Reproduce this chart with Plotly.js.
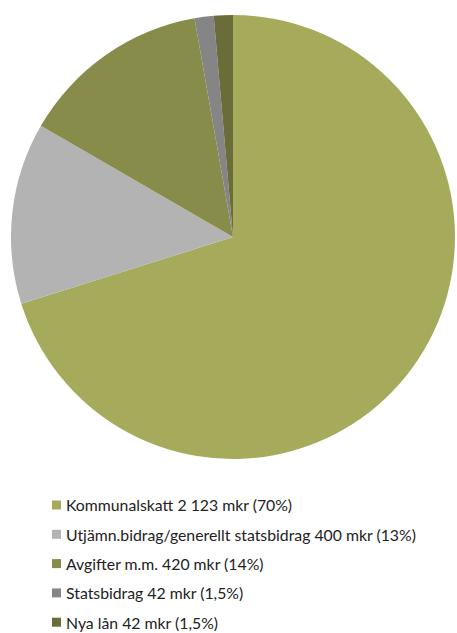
<!DOCTYPE html>
<html><head><meta charset="utf-8">
<script src="https://cdn.plot.ly/plotly-3.0.1.min.js"></script>
<style>html,body{margin:0;padding:0;background:#fff;}#chart{width:457px;height:633px;}</style>
</head><body><div id="chart"></div>
<script>
const categories = ["Kommunalskatt", "Utjämn.bidrag/generellt statsbidrag", "Avgifter m.m.", "Statsbidrag", "Nya lån"];
const values = [2123, 400, 420, 42, 42];
const legendLabels = [
  "Kommunalskatt 2 123 mkr (70%)",
  "Utjämn.bidrag/generellt statsbidrag 400 mkr (13%)",
  "Avgifter m.m. 420 mkr (14%)",
  "Statsbidrag 42 mkr (1,5%)",
  "Nya lån 42 mkr (1,5%)"
];
const colors = ["#A6AB5C", "#B3B3B3", "#878C4B", "#858585", "#6A6C3A"];

const W = 457, H = 633;
const px = x => x / W, py = y => 1 - y / H;

const trace = {
  type: "pie",
  labels: categories,
  values: values,
  marker: {colors: colors, line: {width: 0}},
  sort: false,
  direction: "clockwise",
  rotation: 0,
  textinfo: "none",
  hoverinfo: "label+value+percent",
  showlegend: false,
  domain: {x: [px(11), px(455)], y: [py(459), py(15)]}
};

const rowY0 = 505, rowStep = 29.3;
const annotations = legendLabels.map((t, i) => ({
  text: t, xref: "paper", yref: "paper",
  x: px(65), y: py(rowY0 + i * rowStep),
  xanchor: "left", yanchor: "middle", showarrow: false, borderpad: 0,
  font: {family: "Lato, 'DejaVu Sans', sans-serif", size: 15.8, color: "#222"}
}));
const shapes = colors.map((c, i) => ({
  type: "rect", xref: "paper", yref: "paper",
  x0: px(52), x1: px(61),
  y0: py(rowY0 + i * rowStep - 4.5), y1: py(rowY0 + i * rowStep + 4.5),
  fillcolor: c, line: {width: 0}
}));

Plotly.newPlot("chart", [trace], {
  width: W, height: H,
  margin: {l: 0, r: 0, t: 0, b: 0},
  paper_bgcolor: "#fff",
  showlegend: false,
  annotations: annotations,
  shapes: shapes
}, {displayModeBar: false, staticPlot: true});
</script></body></html>
